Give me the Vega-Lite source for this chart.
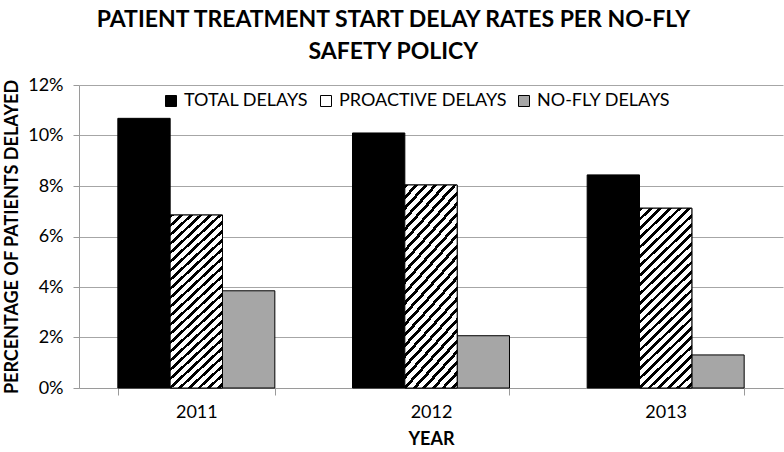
{
  "$schema": "https://vega.github.io/schema/vega-lite/v6.json",
  "width": 704,
  "height": 303,
  "autosize": {"type": "none"},
  "padding": {"left": 79, "top": 85, "right": 1, "bottom": 64},
  "title": {
    "text": ["PATIENT TREATMENT START DELAY RATES PER NO-FLY", "SAFETY POLICY"],
    "font": "Lato",
    "fontSize": 23,
    "fontWeight": "bold",
    "lineHeight": 32,
    "color": "#000000",
    "anchor": "middle",
    "frame": "bounds",
    "offset": 12
  },
  "data": {
    "values": [
      {"year": "2011", "series": "TOTAL DELAYS", "value": 0.1068},
      {"year": "2011", "series": "PROACTIVE DELAYS", "value": 0.0685},
      {"year": "2011", "series": "NO-FLY DELAYS", "value": 0.0385},
      {"year": "2012", "series": "TOTAL DELAYS", "value": 0.1010},
      {"year": "2012", "series": "PROACTIVE DELAYS", "value": 0.0804},
      {"year": "2012", "series": "NO-FLY DELAYS", "value": 0.0207},
      {"year": "2013", "series": "TOTAL DELAYS", "value": 0.0844},
      {"year": "2013", "series": "PROACTIVE DELAYS", "value": 0.0712},
      {"year": "2013", "series": "NO-FLY DELAYS", "value": 0.0131}
    ]
  },
  "encoding": {
    "x": {
      "field": "year",
      "type": "nominal",
      "scale": {"paddingInner": 0.331, "paddingOuter": 0.1655},
      "axis": {
        "title": "YEAR",
        "titleFont": "Lato",
        "titleFontSize": 18,
        "titleFontWeight": "bold",
        "titleColor": "#000000",
        "titlePadding": 9,
        "labelFont": "Lato",
        "labelFontSize": 18,
        "labelColor": "#000000",
        "labelAngle": 0,
        "labelPadding": 8,
        "tickBand": "extent",
        "ticks": true,
        "tickSize": 7,
        "tickColor": "#9a9a9a",
        "domainColor": "#9a9a9a",
        "grid": false
      }
    },
    "xOffset": {
      "field": "series",
      "type": "nominal",
      "scale": {"domain": ["TOTAL DELAYS", "PROACTIVE DELAYS", "NO-FLY DELAYS"], "paddingInner": 0, "paddingOuter": 0}
    },
    "y": {
      "field": "value",
      "type": "quantitative",
      "scale": {"domain": [0, 0.12], "nice": false},
      "axis": {
        "title": "PERCENTAGE OF PATIENTS DELAYED",
        "titleFont": "Lato",
        "titleFontSize": 18,
        "titleFontWeight": "bold",
        "titleColor": "#000000",
        "titlePadding": 6,
        "values": [0, 0.02, 0.04, 0.06, 0.08, 0.1, 0.12],
        "format": ".0%",
        "labelFont": "Lato",
        "labelFontSize": 18,
        "labelColor": "#000000",
        "labelPadding": 10,
        "ticks": true,
        "tickSize": 6,
        "tickColor": "#9a9a9a",
        "domainColor": "#9a9a9a",
        "grid": true,
        "gridColor": "#a6a6a6",
        "gridWidth": 1
      }
    }
  },
  "layer": [
    {
      "mark": {"type": "bar", "stroke": "#000000", "strokeWidth": 1},
      "encoding": {
        "color": {
          "field": "series",
          "type": "nominal",
          "scale": {
            "domain": ["TOTAL DELAYS", "PROACTIVE DELAYS", "NO-FLY DELAYS"],
            "range": ["#000000", "#ffffff", "#a6a6a6"]
          },
          "legend": {
            "title": null,
            "orient": "none",
            "direction": "horizontal",
            "legendX": 83,
            "legendY": 7,
            "symbolType": "square",
            "symbolSize": 121,
            "symbolStrokeColor": "#000000",
            "symbolStrokeWidth": 1,
            "symbolOpacity": 1,
            "labelFont": "Lato",
            "labelFontSize": 18,
            "labelColor": "#000000",
            "labelOffset": 4,
            "labelLimit": 400,
            "columnPadding": 8,
            "encode": {
              "symbols": {
                "update": {
                  "stroke": {"value": "#000000"},
                  "strokeWidth": {"value": 1}
                }
              }
            }
          }
        }
      }
    },
    {
      "transform": [{"filter": "datum.series === 'PROACTIVE DELAYS'"}],
      "mark": {
        "type": "bar",
        "stroke": "#000000",
        "strokeWidth": 1,
        "fill": {
          "gradient": "linear",
          "x1": 0, "y1": 0, "x2": 0.368, "y2": 1.301,
          "stops": [
            {"offset": 0, "color": "#000000"}, {"offset": 0.0148, "color": "#000000"}, {"offset": 0.0148, "color": "#ffffff"}, {"offset": 0.0370, "color": "#ffffff"},
            {"offset": 0.0370, "color": "#000000"}, {"offset": 0.0519, "color": "#000000"}, {"offset": 0.0519, "color": "#ffffff"}, {"offset": 0.0741, "color": "#ffffff"},
            {"offset": 0.0741, "color": "#000000"}, {"offset": 0.0889, "color": "#000000"}, {"offset": 0.0889, "color": "#ffffff"}, {"offset": 0.1111, "color": "#ffffff"},
            {"offset": 0.1111, "color": "#000000"}, {"offset": 0.1259, "color": "#000000"}, {"offset": 0.1259, "color": "#ffffff"}, {"offset": 0.1481, "color": "#ffffff"},
            {"offset": 0.1481, "color": "#000000"}, {"offset": 0.1630, "color": "#000000"}, {"offset": 0.1630, "color": "#ffffff"}, {"offset": 0.1852, "color": "#ffffff"},
            {"offset": 0.1852, "color": "#000000"}, {"offset": 0.2000, "color": "#000000"}, {"offset": 0.2000, "color": "#ffffff"}, {"offset": 0.2222, "color": "#ffffff"},
            {"offset": 0.2222, "color": "#000000"}, {"offset": 0.2370, "color": "#000000"}, {"offset": 0.2370, "color": "#ffffff"}, {"offset": 0.2593, "color": "#ffffff"},
            {"offset": 0.2593, "color": "#000000"}, {"offset": 0.2741, "color": "#000000"}, {"offset": 0.2741, "color": "#ffffff"}, {"offset": 0.2963, "color": "#ffffff"},
            {"offset": 0.2963, "color": "#000000"}, {"offset": 0.3111, "color": "#000000"}, {"offset": 0.3111, "color": "#ffffff"}, {"offset": 0.3333, "color": "#ffffff"},
            {"offset": 0.3333, "color": "#000000"}, {"offset": 0.3481, "color": "#000000"}, {"offset": 0.3481, "color": "#ffffff"}, {"offset": 0.3704, "color": "#ffffff"},
            {"offset": 0.3704, "color": "#000000"}, {"offset": 0.3852, "color": "#000000"}, {"offset": 0.3852, "color": "#ffffff"}, {"offset": 0.4074, "color": "#ffffff"},
            {"offset": 0.4074, "color": "#000000"}, {"offset": 0.4222, "color": "#000000"}, {"offset": 0.4222, "color": "#ffffff"}, {"offset": 0.4444, "color": "#ffffff"},
            {"offset": 0.4444, "color": "#000000"}, {"offset": 0.4593, "color": "#000000"}, {"offset": 0.4593, "color": "#ffffff"}, {"offset": 0.4815, "color": "#ffffff"},
            {"offset": 0.4815, "color": "#000000"}, {"offset": 0.4963, "color": "#000000"}, {"offset": 0.4963, "color": "#ffffff"}, {"offset": 0.5185, "color": "#ffffff"},
            {"offset": 0.5185, "color": "#000000"}, {"offset": 0.5333, "color": "#000000"}, {"offset": 0.5333, "color": "#ffffff"}, {"offset": 0.5556, "color": "#ffffff"},
            {"offset": 0.5556, "color": "#000000"}, {"offset": 0.5704, "color": "#000000"}, {"offset": 0.5704, "color": "#ffffff"}, {"offset": 0.5926, "color": "#ffffff"},
            {"offset": 0.5926, "color": "#000000"}, {"offset": 0.6074, "color": "#000000"}, {"offset": 0.6074, "color": "#ffffff"}, {"offset": 0.6296, "color": "#ffffff"},
            {"offset": 0.6296, "color": "#000000"}, {"offset": 0.6444, "color": "#000000"}, {"offset": 0.6444, "color": "#ffffff"}, {"offset": 0.6667, "color": "#ffffff"},
            {"offset": 0.6667, "color": "#000000"}, {"offset": 0.6815, "color": "#000000"}, {"offset": 0.6815, "color": "#ffffff"}, {"offset": 0.7037, "color": "#ffffff"},
            {"offset": 0.7037, "color": "#000000"}, {"offset": 0.7185, "color": "#000000"}, {"offset": 0.7185, "color": "#ffffff"}, {"offset": 0.7407, "color": "#ffffff"},
            {"offset": 0.7407, "color": "#000000"}, {"offset": 0.7556, "color": "#000000"}, {"offset": 0.7556, "color": "#ffffff"}, {"offset": 0.7778, "color": "#ffffff"},
            {"offset": 0.7778, "color": "#000000"}, {"offset": 0.7926, "color": "#000000"}, {"offset": 0.7926, "color": "#ffffff"}, {"offset": 0.8148, "color": "#ffffff"},
            {"offset": 0.8148, "color": "#000000"}, {"offset": 0.8296, "color": "#000000"}, {"offset": 0.8296, "color": "#ffffff"}, {"offset": 0.8519, "color": "#ffffff"},
            {"offset": 0.8519, "color": "#000000"}, {"offset": 0.8667, "color": "#000000"}, {"offset": 0.8667, "color": "#ffffff"}, {"offset": 0.8889, "color": "#ffffff"},
            {"offset": 0.8889, "color": "#000000"}, {"offset": 0.9037, "color": "#000000"}, {"offset": 0.9037, "color": "#ffffff"}, {"offset": 0.9259, "color": "#ffffff"},
            {"offset": 0.9259, "color": "#000000"}, {"offset": 0.9407, "color": "#000000"}, {"offset": 0.9407, "color": "#ffffff"}, {"offset": 0.9630, "color": "#ffffff"},
            {"offset": 0.9630, "color": "#000000"}, {"offset": 0.9778, "color": "#000000"}, {"offset": 0.9778, "color": "#ffffff"}, {"offset": 1, "color": "#ffffff"}
          ]
        }
      }
    }
  ],
  "config": {
    "view": {"stroke": null},
    "font": "Lato"
  }
}
